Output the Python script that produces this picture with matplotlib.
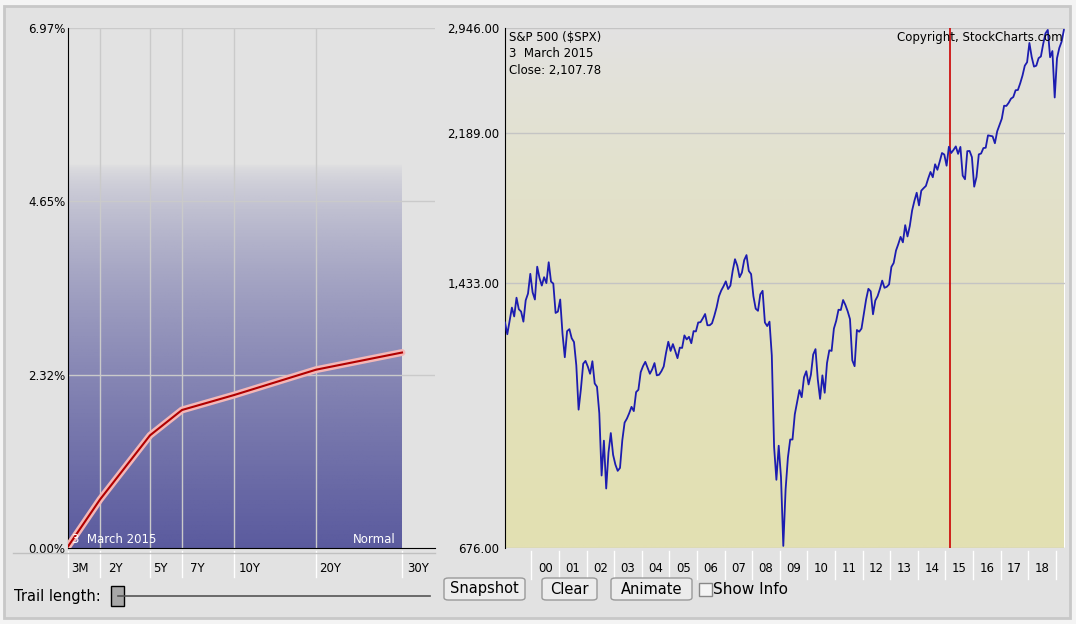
import numpy as np
import matplotlib.pyplot as plt
import matplotlib.transforms as mtransforms
from matplotlib.patches import FancyBboxPatch, Rectangle

# yield curve, 3 March 2015
maturities = ['3M', '2Y', '5Y', '7Y', '10Y', '20Y', '30Y']
yields = [0.02, 0.65, 1.51, 1.85, 2.05, 2.39, 2.62]
yield_ticks = [0.00, 2.32, 4.65, 6.97]

# S&P 500 monthly closes, Jan 1999 .. Apr 2019
spx = [
    1280, 1238, 1286, 1335, 1302, 1373, 1329, 1320, 1283, 1363, 1389, 1469,
    1394, 1366, 1499, 1452, 1421, 1455, 1431, 1518, 1437, 1429, 1315, 1320,
    1366, 1240, 1160, 1249, 1256, 1224, 1211, 1134, 1000, 1060, 1139, 1148,
    1130, 1107, 1147, 1077, 1067, 990, 830, 916, 800, 886, 936, 880,
    856, 841, 848, 917, 964, 975, 990, 1008, 996, 1051, 1058, 1112,
    1131, 1145, 1126, 1107, 1121, 1141, 1102, 1104, 1115, 1130, 1174, 1212,
    1181, 1204, 1181, 1157, 1192, 1191, 1234, 1220, 1229, 1207, 1249, 1248,
    1280, 1281, 1295, 1311, 1270, 1270, 1277, 1304, 1336, 1378, 1401, 1418,
    1438, 1407, 1421, 1482, 1531, 1503, 1455, 1474, 1527, 1549, 1481, 1468,
    1379, 1331, 1323, 1386, 1400, 1280, 1267, 1283, 1166, 900, 820, 903,
    826, 680, 798, 873, 919, 919, 987, 1021, 1057, 1036, 1096, 1115,
    1074, 1104, 1169, 1187, 1089, 1031, 1102, 1049, 1141, 1183, 1181, 1258,
    1286, 1327, 1326, 1364, 1345, 1321, 1292, 1150, 1131, 1253, 1247, 1258,
    1312, 1366, 1408, 1398, 1310, 1362, 1379, 1407, 1441, 1412, 1416, 1426,
    1498, 1515, 1569, 1598, 1631, 1606, 1686, 1633, 1682, 1757, 1806, 1848,
    1783, 1859, 1872, 1884, 1924, 1960, 1931, 2003, 1972, 2018, 2068, 2059,
    1995, 2105, 2068, 2086, 2107, 2063, 2104, 1940, 1920, 2079, 2080, 2044,
    1880, 1932, 2060, 2065, 2097, 2099, 2174, 2171, 2168, 2126, 2199, 2239,
    2279, 2364, 2363, 2384, 2412, 2423, 2470, 2472, 2519, 2575, 2648, 2674,
    2824, 2714, 2641, 2648, 2705, 2718, 2816, 2902, 2930, 2712, 2760, 2420,
    2704, 2784, 2834, 2930,
]
spx_ticks = [676, 1433, 2189, 2946]
year_labels = ['00', '01', '02', '03', '04', '05', '06', '07', '08', '09',
               '10', '11', '12', '13', '14', '15', '16', '17', '18']

W, H = 1076, 624
fig = plt.figure(figsize=(W / 100, H / 100), dpi=100, facecolor='#f4f4f4')
fig.patches.append(Rectangle((4 / W, 6 / H), 1066 / W, 612 / H, transform=fig.transFigure,
                             facecolor='#e2e2e2', edgecolor='#c8c8c8', lw=2, zorder=-5))

def rect(x0, y0, x1, y1):
    return [x0 / W, 1 - y1 / H, (x1 - x0) / W, (y1 - y0) / H]

# ---------- left: yield curve ----------
ax = fig.add_axes(rect(68, 28, 435, 548))
ax.set_facecolor('#e2e2e2')
ax.set_xlim(0, 367)
ax.set_ylim(0, 6.97)
x_pos = [0, 32, 82, 114, 166, 248, 334]
top = 5.15
grad = np.zeros((200, 2, 4))
c = np.array([86, 86, 156]) / 255
grad[:, :, :3] = c
a = np.linspace(1, 0, 200) ** 0.65
grad[:, :, 3] = a[:, None] * 0.97
ax.imshow(grad, extent=(0, 334, 0, top), aspect='auto', origin='lower', zorder=1)
for y in yield_ticks[1:]:
    ax.axhline(y, color='#cacaca', lw=1, zorder=2)
for xp in x_pos[1:6]:
    ax.axvline(xp, color='#cacaca', lw=1, zorder=2)
ax.plot(x_pos, yields, color='#f4b8b8', lw=5, zorder=3, solid_capstyle='round')
ax.plot(x_pos, yields, color='#b00000', lw=1.5, zorder=4)
for s in ['top', 'right']:
    ax.spines[s].set_visible(False)
ax.spines['left'].set_color('black')
ax.spines['bottom'].set_color('black')
ax.set_xticks([])
ax.set_yticks(yield_ticks)
ax.set_yticklabels([f'{v:.2f}%' for v in yield_ticks], fontsize=8.5)
ax.tick_params(axis='y', length=0, pad=2)
ax.text(4, 0.07, '3  March 2015', color='white', fontsize=8.5, zorder=5)
ax.text(328, 0.07, 'Normal', color='white', fontsize=8.5, ha='right', zorder=5)
trans = mtransforms.blended_transform_factory(ax.transData, ax.transAxes)
label_x = [12, 47, 92, 129, 182, 262, 350]
for lx, lab in zip(label_x, maturities):
    ax.text(lx, -0.04, lab, transform=trans, ha='center', va='center', fontsize=8.5)
for xp in x_pos[1:] + [0]:
    ax.plot([xp, xp], [-0.005, -0.055], transform=trans, color='white', lw=1, clip_on=False)
ax.plot([-55, 367], [-0.01, -0.01], transform=trans, color='#c0c0c0', lw=1, clip_on=False)

# ---------- right: S&P 500 ----------
bx = fig.add_axes(rect(505, 28, 1065, 548))
dates = 1999.04 + np.arange(len(spx)) / 12
bx.set_yscale('log')
bx.set_ylim(676, 2946)
bx.set_xlim(1999.04, 2019.33)
bg = np.zeros((200, 2, 3))
topc = np.array([226, 226, 226]) / 255
botc = np.array([227, 224, 178]) / 255
t = np.linspace(0, 1, 200)[:, None]
bg[:, :, :] = (topc * (1 - t) + botc * t)[:, None, :]
bx.imshow(bg, extent=(1999.04, 2019.33, 676, 2946), aspect='auto', origin='upper', zorder=0)
for y in spx_ticks:
    bx.axhline(y, color='#c4c4c4', lw=1, zorder=1)
bx.axvline(2015.17, color='#cc0000', lw=1.2, zorder=2)
bx.plot(dates, spx, color='#1c1cb0', lw=1.3, zorder=3)
bx.set_yticks(spx_ticks)
bx.set_yticklabels([f'{v:,.2f}' for v in spx_ticks], fontsize=8.5)
bx.yaxis.set_minor_locator(plt.NullLocator())
bx.tick_params(axis='y', length=0, pad=4)
bx.set_xticks([])
for s in ['top', 'right']:
    bx.spines[s].set_visible(False)
bx.spines['bottom'].set_visible(False)
bx.spines['left'].set_color('black')
bx.text(0.008, 0.995, 'S&P 500 ($SPX)\n3  March 2015\nClose: 2,107.78', transform=bx.transAxes,
        fontsize=8.5, va='top', linespacing=1.35, zorder=5)
bx.text(0.995, 0.995, 'Copyright, StockCharts.com', transform=bx.transAxes,
        fontsize=8.5, va='top', ha='right', zorder=5)
trans2 = mtransforms.blended_transform_factory(bx.transData, bx.transAxes)
for i, lab in enumerate(year_labels):
    bx.text(2000.5 + i, -0.04, lab, transform=trans2, ha='center', va='center', fontsize=8.5)
for yr in range(2000, 2020):
    bx.plot([yr, yr], [-0.005, -0.06], transform=trans2, color='white', lw=1, clip_on=False)

# ---------- controls ----------
fig.text(14 / W, 1 - 596 / H, 'Trail length:', fontsize=10.5, va='center')
fig.add_artist(plt.Line2D([118 / W, 430 / W], [1 - 596 / H] * 2, color='#555555', lw=1.2))
fig.add_artist(Rectangle((111 / W, 1 - 606 / H), 13 / W, 20 / H, facecolor='#a8a8a8',
                         edgecolor='black', lw=1))
for x0, x1, lab in [(444, 525, 'Snapshot'), (542, 597, 'Clear'), (611, 692, 'Animate')]:
    fig.add_artist(FancyBboxPatch((x0 / W, 1 - 600 / H), (x1 - x0) / W, 22 / H,
                                  boxstyle='round,pad=0,rounding_size=0.004',
                                  facecolor='#ececec', edgecolor='#9a9a9a', lw=1))
    fig.text((x0 + x1) / 2 / W, 1 - 589 / H, lab, fontsize=10.5, ha='center', va='center')
fig.add_artist(Rectangle((699 / W, 1 - 596 / H), 13 / W, 13 / H, facecolor='#f4f4f4',
                         edgecolor='#888888', lw=1))
fig.text(713 / W, 1 - 589 / H, 'Show Info', fontsize=11, va='center')

fig.savefig('out.png', dpi=100, facecolor=fig.get_facecolor())
